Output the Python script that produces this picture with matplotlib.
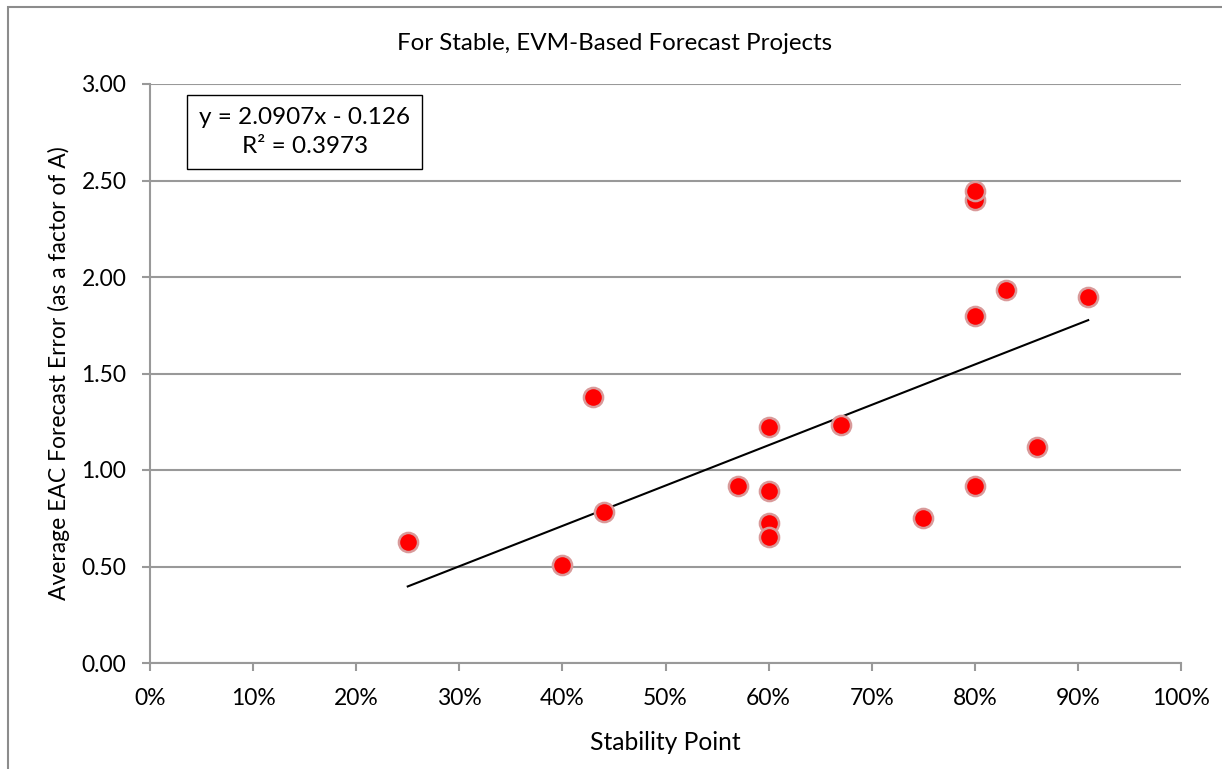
import matplotlib
matplotlib.use("Agg")
import matplotlib.pyplot as plt
import numpy as np
from matplotlib.patches import Rectangle

plt.rcParams['font.family'] = ['Lato', 'DejaVu Sans']

stability = [0.25, 0.40, 0.43, 0.44, 0.57, 0.60, 0.60, 0.60, 0.60, 0.67, 0.75,
             0.80, 0.80, 0.80, 0.80, 0.83, 0.86, 0.91]
eac_error = [0.627, 0.508, 1.378, 0.782, 0.917, 1.223, 0.891, 0.725, 0.653, 1.233, 0.751,
             2.399, 2.446, 1.798, 0.917, 1.933, 1.119, 1.896]
slope = 2.0907
intercept = -0.126
r2 = 0.3973
x_ticks = [0, 0.1, 0.2, 0.3, 0.4, 0.5, 0.6, 0.7, 0.8, 0.9, 1.0]
y_ticks = [0.0, 0.5, 1.0, 1.5, 2.0, 2.5, 3.0]

W, H = 1222, 769
fig = plt.figure(figsize=(W / 100, H / 100), dpi=100)
ax = fig.add_axes([150 / W, 1 - 663 / H, (1181 - 150) / W, (663 - 84) / H])

# outer chart border
fig.patches.append(Rectangle((8 / W, -0.1), 1.2, 1 - 7 / H + 0.1, transform=fig.transFigure,
                             fill=False, edgecolor='#8c8c8c', linewidth=1.5, zorder=0))

gray = '#999999'
ax.set_xlim(0, 1)
ax.set_ylim(0, 3)
ax.set_xticks(x_ticks)
ax.set_xticklabels([f"{int(round(t * 100))}%" for t in x_ticks])
ax.set_yticks(y_ticks)
ax.set_yticklabels([f"{t:.2f}" for t in y_ticks])
ax.grid(axis='y', color=gray, linewidth=1.5)
ax.set_axisbelow(True)
for s in ['top', 'right']:
    ax.spines[s].set_visible(False)
for s in ['left', 'bottom']:
    ax.spines[s].set_color(gray)
    ax.spines[s].set_linewidth(1.5)
ax.tick_params(axis='both', color=gray, width=1.5, length=6, labelsize=16.5)
ax.tick_params(axis='x', pad=12)
ax.tick_params(axis='y', pad=11)

xs = np.array([min(stability), max(stability)])
ax.plot(xs, slope * xs + intercept, color='black', linewidth=1.5, zorder=2)
ax.scatter(stability, eac_error, s=190, color='#ff0000', edgecolors='#d99a9a', linewidths=1.8, zorder=3)

ax.text(0.150, 2.75, f"y = {slope}x - {abs(intercept)}\nR² = {r2}", ha='center', va='center',
        fontsize=17.5, linespacing=1.45,
        bbox=dict(boxstyle='square,pad=0.5', facecolor='white', edgecolor='black', linewidth=1))

fig.text((397 + 832) / 2 / W, 1 - 43 / H, "For Stable, EVM-Based Forecast Projects", ha='center', va='center', fontsize=17.4)
ax.set_xlabel("Stability Point", fontsize=17.7, labelpad=16)
ax.set_ylabel("Average EAC Forecast Error (as a factor of A)", fontsize=16.5, labelpad=8)

fig.savefig("out.png", dpi=100)
